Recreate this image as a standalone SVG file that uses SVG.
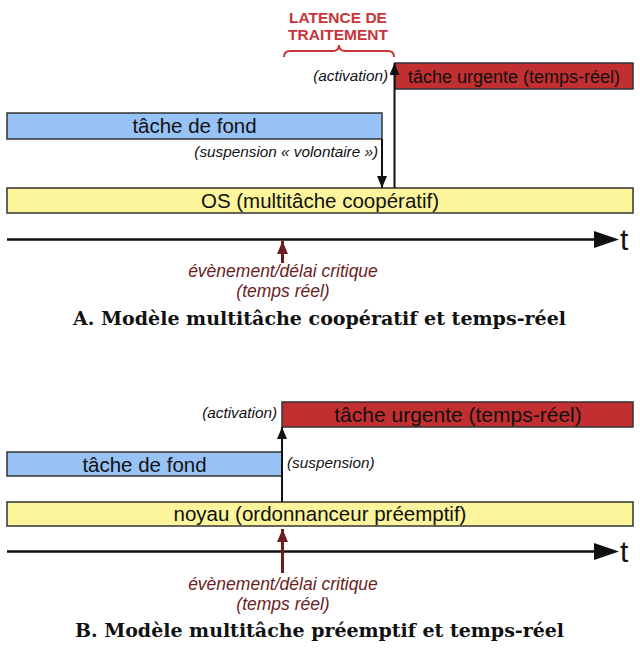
<svg xmlns="http://www.w3.org/2000/svg" width="640" height="650" viewBox="0 0 640 650">
<style>
.bar{stroke:#333;stroke-width:1.5}
.blue{fill:#97c2f5}
.yellow{fill:#fdf59b}
.red{fill:#c22f30}
.lbl{font-family:"Liberation Sans",Arial,sans-serif;fill:#111;text-anchor:middle}
.it{font-family:"Liberation Sans",Arial,sans-serif;font-style:italic;font-size:15.3px;fill:#111}
.ev{font-family:"Liberation Sans",Arial,sans-serif;font-style:italic;font-size:17.5px;fill:#6b1d1d;text-anchor:middle}
.cap{font-family:"DejaVu Serif","Liberation Serif",serif;font-weight:bold;font-size:18px;fill:#111}
.lat{font-family:"Liberation Sans",Arial,sans-serif;font-weight:bold;font-size:15.5px;fill:#c8343a;text-anchor:middle}
.t{font-family:"Liberation Sans",Arial,sans-serif;font-size:30px;fill:#111}
.ln{stroke:#111;stroke-width:2;fill:none}
.axis{stroke:#111;stroke-width:2.5;fill:none}
.evl{stroke:#6b1d1d;stroke-width:3;fill:none}
</style>
<defs>
<marker id="ah" viewBox="0 0 12 10" refX="12" refY="5" markerWidth="12" markerHeight="10" markerUnits="userSpaceOnUse" orient="auto">
<path d="M0,0 L12,5 L0,10 Z" fill="#111"/>
</marker>
<marker id="ahr" viewBox="0 0 13 11" refX="13" refY="5.5" markerWidth="13" markerHeight="11" markerUnits="userSpaceOnUse" orient="auto">
<path d="M0,0 L13,5.5 L0,11 Z" fill="#6b1d1d"/>
</marker>
</defs>

<!-- Part A -->
<g id="a-latence">
<text class="lat" x="338" y="23">LATENCE DE</text>
<text class="lat" x="338" y="40">TRAITEMENT</text>
<path d="M284,57 Q284,51 290,51 L333,51 Q339,51 339,45 Q339,51 345,51 L388,51 Q394,51 394,57" fill="none" stroke="#c8343a" stroke-width="2"/>
</g>
<g id="a-urgent">
<rect class="bar red" x="395" y="63" width="238" height="26"/>
<text class="lbl" x="514" y="83" font-size="18">tâche urgente (temps-réel)</text>
</g>
<g id="a-fond">
<rect class="bar blue" x="7" y="113" width="375" height="26"/>
<text class="lbl" x="194.5" y="133" font-size="20.5">tâche de fond</text>
</g>
<g id="a-os">
<rect class="bar yellow" x="7" y="188" width="626" height="25"/>
<text class="lbl" x="320" y="207.5" font-size="20.5">OS (multitâche coopératif)</text>
</g>
<g id="a-labels">
<text class="it" x="388" y="81" text-anchor="end">(activation)</text>
<text class="it" x="378" y="157" text-anchor="end" font-size="16">(suspension « volontaire »)</text>
<text class="ev" x="283" y="277">évènement/délai critique</text>
<text class="ev" x="283" y="297">(temps réel)</text>
<text class="t" x="620" y="250">t</text>
<text class="cap" x="73" y="325" textLength="493" lengthAdjust="spacingAndGlyphs">A. Modèle multitâche coopératif et temps-réel</text>
</g>

<!-- Part B -->
<g id="b-urgent">
<rect class="bar red" x="282" y="402" width="351" height="25"/>
<text class="lbl" x="458" y="422" font-size="21">tâche urgente (temps-réel)</text>
</g>
<g id="b-fond">
<rect class="bar blue" x="7" y="452" width="275" height="24"/>
<text class="lbl" x="144.5" y="471.5" font-size="20.5">tâche de fond</text>
</g>
<g id="b-noyau">
<rect class="bar yellow" x="7" y="502" width="626" height="24"/>
<text class="lbl" x="320" y="521" font-size="20.5">noyau (ordonnanceur préemptif)</text>
</g>
<g id="b-labels">
<text class="it" x="277" y="418" text-anchor="end">(activation)</text>
<text class="it" x="287" y="468">(suspension)</text>
<text class="ev" x="283" y="590">évènement/délai critique</text>
<text class="ev" x="283" y="610">(temps réel)</text>
<text class="t" x="620" y="562">t</text>
<text class="cap" x="75" y="637" textLength="489" lengthAdjust="spacingAndGlyphs">B. Modèle multitâche préemptif et temps-réel</text>
</g>

<g id="connectors">
<line class="ln" x1="382" y1="139" x2="382" y2="188" marker-end="url(#ah)"/>
<line class="ln" x1="394.5" y1="188" x2="394.5" y2="63" marker-end="url(#ah)"/>
<line class="axis" x1="7" y1="239.5" x2="600" y2="239.5"/>
<path d="M594,231 L619,239.5 L594,248 Z" fill="#111"/>
<line class="evl" x1="282.5" y1="263" x2="282.5" y2="241" marker-end="url(#ahr)"/>

<line class="ln" x1="282" y1="502" x2="282" y2="427" marker-end="url(#ah)"/>
<line class="axis" x1="7" y1="551.5" x2="600" y2="551.5"/>
<path d="M594,543 L619,551.5 L594,560 Z" fill="#111"/>
<line class="evl" x1="282.5" y1="573" x2="282.5" y2="529" marker-end="url(#ahr)"/>
</g>
</svg>
